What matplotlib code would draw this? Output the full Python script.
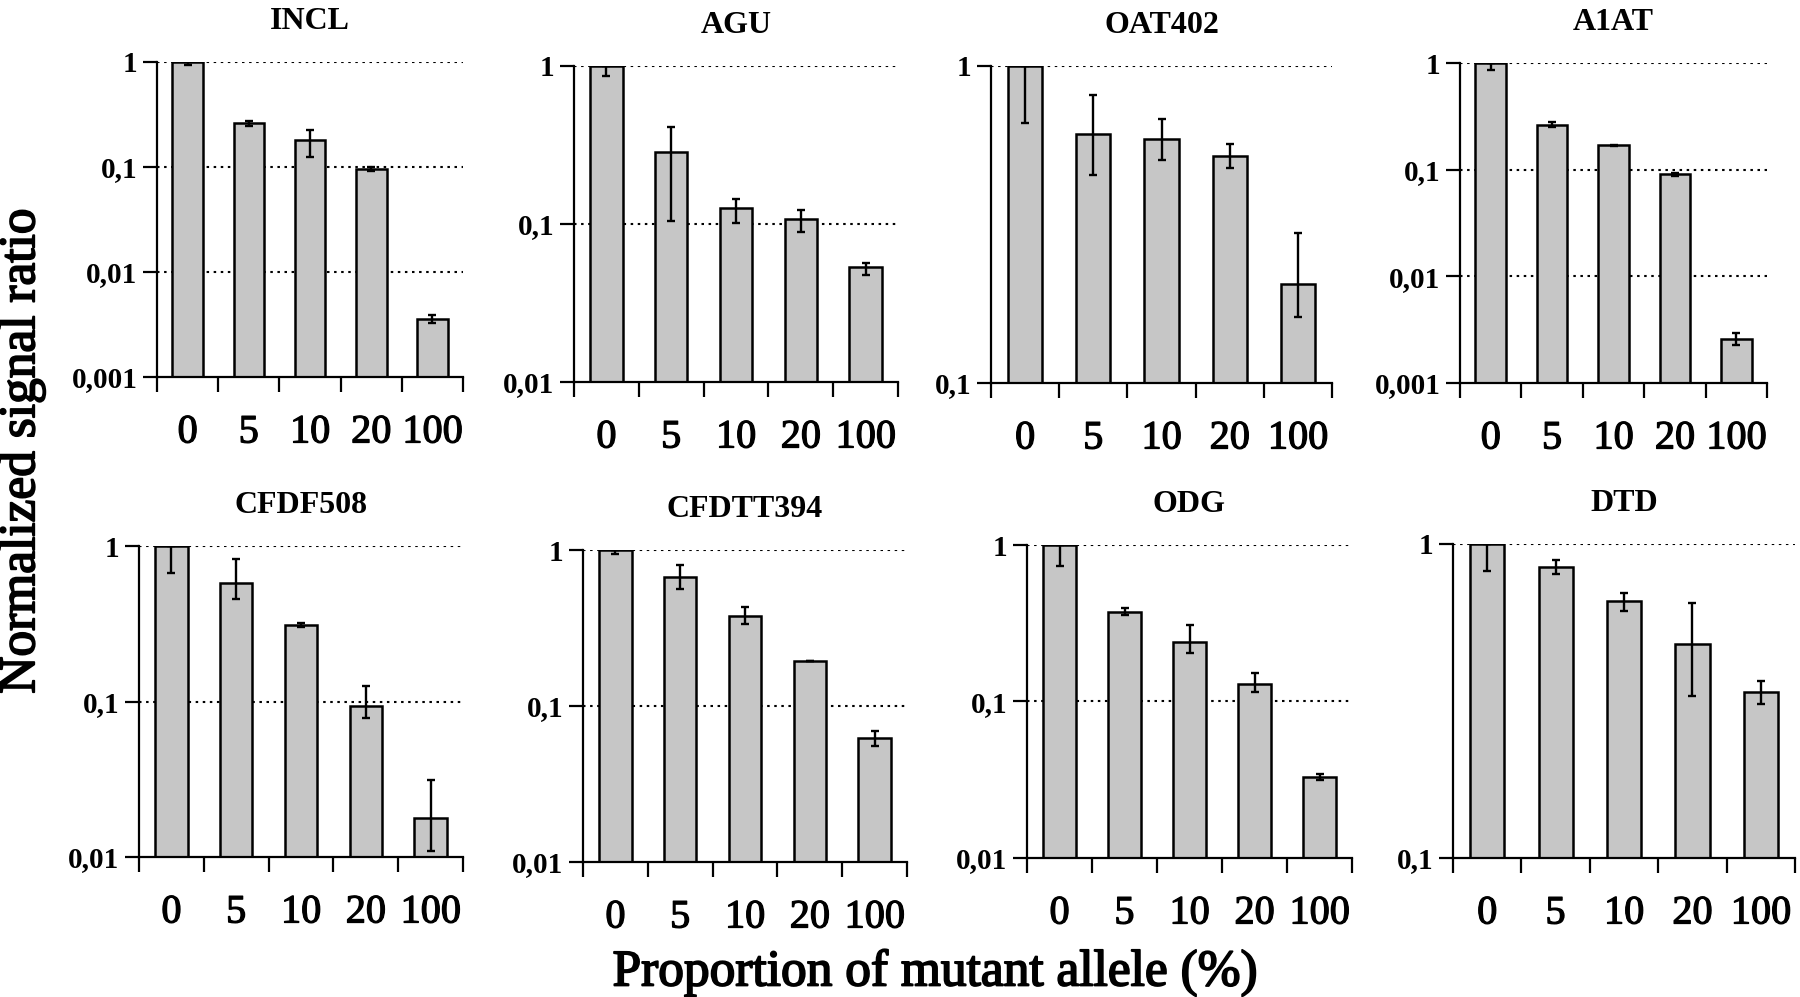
import matplotlib
matplotlib.use('Agg')
import matplotlib.pyplot as plt
import matplotlib.patheffects as pe
import numpy as np

plt.rcParams['font.family'] = ['Liberation Serif', 'DejaVu Serif']

proportions = ['0', '5', '10', '20', '100']
panel_names = ['INCL', 'AGU', 'OAT402', 'A1AT', 'CFDF508', 'CFDTT394', 'ODG', 'DTD']

# bar heights (normalized signal ratio)
incl_vals = [1.0, 0.26, 0.179, 0.096, 0.00358]
agu_vals = [1.0, 0.286, 0.126, 0.107, 0.0537]
oat402_vals = [1.0, 0.609, 0.590, 0.520, 0.206]
a1at_vals = [1.0, 0.265, 0.169, 0.0904, 0.00256]
cfdf508_vals = [1.0, 0.578, 0.312, 0.0938, 0.0177]
cfdtt394_vals = [1.0, 0.671, 0.380, 0.1945, 0.0619]
odg_vals = [1.0, 0.372, 0.241, 0.129, 0.0327]
dtd_vals = [1.0, 0.847, 0.660, 0.481, 0.337]

# error bar ends (low / high)
incl_lo = [0.93, 0.247, 0.124, 0.091, 0.0033]
incl_hi = [1.0, 0.275, 0.223, 0.100, 0.0039]
agu_lo = [0.865, 0.104, 0.101, 0.089, 0.0475]
agu_hi = [1.0, 0.413, 0.144, 0.123, 0.0563]
oat402_lo = [0.661, 0.454, 0.506, 0.477, 0.161]
oat402_hi = [1.0, 0.808, 0.681, 0.569, 0.298]
a1at_lo = [0.855, 0.25, 0.167, 0.088, 0.00225]
a1at_hi = [1.0, 0.281, 0.171, 0.093, 0.00293]
cfdf508_lo = [0.67, 0.456, 0.30, 0.0778, 0.0109]
cfdf508_hi = [1.0, 0.825, 0.322, 0.126, 0.0315]
cfdtt394_lo = [0.94, 0.565, 0.335, 0.1945, 0.0556]
cfdtt394_hi = [1.0, 0.797, 0.428, 0.1945, 0.0687]
odg_lo = [0.73, 0.356, 0.203, 0.115, 0.0316]
odg_hi = [1.0, 0.397, 0.308, 0.153, 0.0345]
dtd_lo = [0.821, 0.803, 0.614, 0.327, 0.31]
dtd_hi = [1.0, 0.889, 0.697, 0.648, 0.366]

# lower y limit of each panel
y_bottoms = [0.001, 0.01, 0.1, 0.001, 0.01, 0.01, 0.01, 0.1]

W, H = 1800, 997
# axes boxes in pixels: left, right, top, bottom
boxes = [
    (157, 463, 62, 377), (574, 898, 66, 382), (991, 1332, 66, 383), (1460, 1767, 63, 383),
    (139, 463, 546, 857), (583, 907, 550, 862), (1027, 1352, 545, 858), (1453, 1795, 544, 858),
]

# slight ink spread, like the scanned figure
ink = [pe.withStroke(linewidth=0.9, foreground='black')]
ink_big = [pe.withStroke(linewidth=1.3, foreground='black')]


def fmt_tick(v):
    return {1: '1', 0.1: '0,1', 0.01: '0,01', 0.001: '0,001'}[v]


def draw_panel(fig, box, name, vals, lo, hi, ybot):
    l, r, t, b = box
    ax = fig.add_axes([l / W, 1 - b / H, (r - l) / W, (b - t) / H])
    x = np.arange(len(vals)) + 0.5
    vals = np.array(vals)
    yerr = [vals - np.array(lo), np.array(hi) - vals]
    ax.bar(x, vals, width=0.5, color='#c6c6c6', edgecolor='black', linewidth=1.8, zorder=2)
    ax.errorbar(x, vals, yerr=yerr, fmt='none', ecolor='black', elinewidth=1.7,
                capsize=3, capthick=1.7, zorder=3)
    ax.set_yscale('log')
    ax.set_ylim(ybot, 1)
    ax.set_xlim(0, 5)

    decades = [10.0 ** k for k in range(int(round(np.log10(ybot))), 1)]
    ax.set_yticks(decades)
    ax.set_yticklabels([fmt_tick(round(d, 3)) for d in decades], fontsize=21, fontweight='bold')
    ax.yaxis.set_minor_locator(matplotlib.ticker.NullLocator())
    for d in decades[1:]:
        ax.axhline(d, color='black', linestyle=(0, (1.2, 2.2)), linewidth=1.5, zorder=1)

    ax.set_xticks(np.arange(6))
    ax.set_xticklabels([])
    ax.set_xticks(x, minor=True)
    ax.set_xticklabels(proportions, minor=True, fontsize=29)
    for lab in ax.get_xticklabels(minor=True):
        lab.set_path_effects(ink)
    ax.tick_params(axis='x', which='major', direction='out', length=11, width=1.6)
    ax.tick_params(axis='x', which='minor', length=0, pad=27)
    ax.tick_params(axis='y', which='major', direction='out', length=10, width=1.6, pad=4)

    ax.spines['top'].set_visible(False)
    ax.spines['right'].set_visible(False)
    ax.spines['left'].set_linewidth(1.6)
    ax.spines['bottom'].set_linewidth(1.6)
    ax.set_title(name, fontsize=23, fontweight='bold', pad=24)
    return ax


def main():
    fig = plt.figure(figsize=(W / 100, H / 100), dpi=100)
    all_vals = [incl_vals, agu_vals, oat402_vals, a1at_vals, cfdf508_vals, cfdtt394_vals, odg_vals, dtd_vals]
    all_lo = [incl_lo, agu_lo, oat402_lo, a1at_lo, cfdf508_lo, cfdtt394_lo, odg_lo, dtd_lo]
    all_hi = [incl_hi, agu_hi, oat402_hi, a1at_hi, cfdf508_hi, cfdtt394_hi, odg_hi, dtd_hi]
    for i in range(8):
        draw_panel(fig, boxes[i], panel_names[i], all_vals[i], all_lo[i], all_hi[i], y_bottoms[i])

    fig.text(22 / W, 1 - 451 / H, 'Normalized signal ratio', rotation=90, fontsize=37,
             ha='center', va='center', path_effects=ink_big)
    fig.text(935 / W, 1 - 973 / H, 'Proportion of mutant allele (%)', fontsize=37,
             ha='center', va='center', path_effects=ink_big)
    fig.savefig('out.png', dpi=100)


if __name__ == "__main__":
    main()
